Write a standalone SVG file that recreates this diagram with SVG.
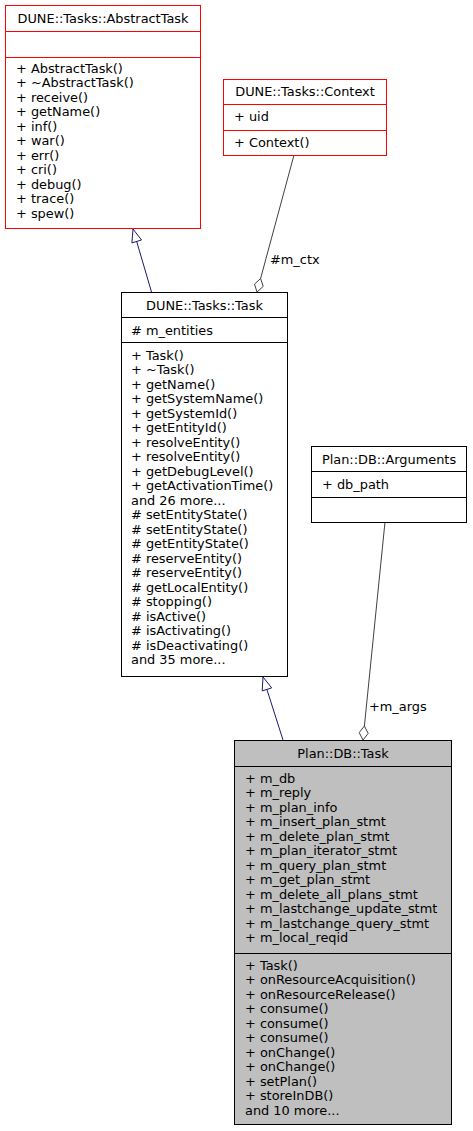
<svg xmlns="http://www.w3.org/2000/svg" width="473" height="1131" viewBox="0 0 473 1131">
<style>
text{font-family:"DejaVu Sans","Liberation Sans",sans-serif;font-size:12.9px;fill:#000}
.t{text-anchor:middle}
.box{fill:#fff;stroke:#000;stroke-width:1}
.red{fill:#fff;stroke:#ff0000;stroke-width:1}
.cur{fill:#bfbfbf;stroke:#000;stroke-width:1}
.ln{stroke:#000;stroke-width:1;fill:none}
.lnr{stroke:#ff0000;stroke-width:1;fill:none}
.inh{stroke:#191970;stroke-width:1;fill:none}
.inhh{stroke:#191970;stroke-width:1;fill:#fff}
.comp{stroke:#404040;stroke-width:1;fill:none}
.comph{stroke:#404040;stroke-width:1;fill:#fff}
</style>
<rect width="473" height="1131" fill="#fff"/>
<g id="connectors">
  <line class="inh" x1="151.5" y1="292" x2="136.7" y2="241.5"/>
  <polygon class="inhh" points="133,229 141.5,240 131.9,242.9"/>
  <line class="inh" x1="283" y1="740" x2="266.9" y2="689.4"/>
  <polygon class="inhh" points="263,677 271.7,687.9 262.2,690.9"/>
  <line class="comp" x1="294" y1="155" x2="260.6" y2="278.5"/>
  <polygon class="comph" points="257,292 263.2,286.4 260.6,278.5 254.5,284.1"/>
  <text x="270" y="263.5">#m_ctx</text>
  <line class="comp" x1="385" y1="522" x2="364.4" y2="726"/>
  <polygon class="comph" points="363,740 368.2,733.4 364.4,726 359.2,732.6"/>
  <text x="369" y="711">+m_args</text>
</g>
<g id="node-abstracttask">
  <rect class="red" x="5.5" y="5.5" width="195" height="223"/>
  <line class="lnr" x1="5.5" y1="31.5" x2="200.5" y2="31.5"/>
  <line class="lnr" x1="5.5" y1="57.5" x2="200.5" y2="57.5"/>
  <text class="t" x="103" y="22.6">DUNE::Tasks::AbstractTask</text>
  <text x="16" y="72.6">+ AbstractTask()</text>
  <text x="16" y="87.1">+ ~AbstractTask()</text>
  <text x="16" y="101.6">+ receive()</text>
  <text x="16" y="116.1">+ getName()</text>
  <text x="16" y="130.6">+ inf()</text>
  <text x="16" y="145.1">+ war()</text>
  <text x="16" y="159.6">+ err()</text>
  <text x="16" y="174.1">+ cri()</text>
  <text x="16" y="188.6">+ debug()</text>
  <text x="16" y="203.1">+ trace()</text>
  <text x="16" y="217.6">+ spew()</text>
</g>
<g id="node-context">
  <rect class="red" x="223.5" y="79.5" width="163" height="76"/>
  <line class="lnr" x1="223.5" y1="104.5" x2="386.5" y2="104.5"/>
  <line class="lnr" x1="223.5" y1="130.5" x2="386.5" y2="130.5"/>
  <text class="t" x="305" y="95.5">DUNE::Tasks::Context</text>
  <text x="234" y="121">+ uid</text>
  <text x="234" y="146.5">+ Context()</text>
</g>
<g id="node-task">
  <rect class="box" x="121.5" y="292.5" width="166" height="384"/>
  <line class="ln" x1="121.5" y1="317.5" x2="287.5" y2="317.5"/>
  <line class="ln" x1="121.5" y1="342.5" x2="287.5" y2="342.5"/>
  <text class="t" x="204.5" y="309.5">DUNE::Tasks::Task</text>
  <text x="131" y="334.5"># m_entities</text>
  <text x="131" y="359.5">+ Task()</text>
  <text x="131" y="374">+ ~Task()</text>
  <text x="131" y="388.5">+ getName()</text>
  <text x="131" y="403">+ getSystemName()</text>
  <text x="131" y="417.5">+ getSystemId()</text>
  <text x="131" y="432">+ getEntityId()</text>
  <text x="131" y="446.5">+ resolveEntity()</text>
  <text x="131" y="461">+ resolveEntity()</text>
  <text x="131" y="475.5">+ getDebugLevel()</text>
  <text x="131" y="490">+ getActivationTime()</text>
  <text x="131" y="504.5">and 26 more...</text>
  <text x="131" y="519"># setEntityState()</text>
  <text x="131" y="533.5"># setEntityState()</text>
  <text x="131" y="548"># getEntityState()</text>
  <text x="131" y="562.5"># reserveEntity()</text>
  <text x="131" y="577"># reserveEntity()</text>
  <text x="131" y="591.5"># getLocalEntity()</text>
  <text x="131" y="606"># stopping()</text>
  <text x="131" y="620.5"># isActive()</text>
  <text x="131" y="635"># isActivating()</text>
  <text x="131" y="649.5"># isDeactivating()</text>
  <text x="131" y="664">and 35 more...</text>
</g>
<g id="node-arguments">
  <rect class="box" x="311.5" y="446.5" width="155" height="76"/>
  <line class="ln" x1="311.5" y1="471.5" x2="466.5" y2="471.5"/>
  <line class="ln" x1="311.5" y1="497.5" x2="466.5" y2="497.5"/>
  <text class="t" x="389" y="463.5">Plan::DB::Arguments</text>
  <text x="322" y="489">+ db_path</text>
</g>
<g id="node-plandbtask">
  <rect class="cur" x="234.5" y="740.5" width="217" height="384"/>
  <line class="ln" x1="234.5" y1="766.5" x2="451.5" y2="766.5"/>
  <line class="ln" x1="234.5" y1="953.5" x2="451.5" y2="953.5"/>
  <text class="t" x="343" y="757.5">Plan::DB::Task</text>
  <text x="245" y="782.5">+ m_db</text>
  <text x="245" y="797">+ m_reply</text>
  <text x="245" y="811.5">+ m_plan_info</text>
  <text x="245" y="826">+ m_insert_plan_stmt</text>
  <text x="245" y="840.5">+ m_delete_plan_stmt</text>
  <text x="245" y="855">+ m_plan_iterator_stmt</text>
  <text x="245" y="869.5">+ m_query_plan_stmt</text>
  <text x="245" y="884">+ m_get_plan_stmt</text>
  <text x="245" y="898.5">+ m_delete_all_plans_stmt</text>
  <text x="245" y="913">+ m_lastchange_update_stmt</text>
  <text x="245" y="927.5">+ m_lastchange_query_stmt</text>
  <text x="245" y="942">+ m_local_reqid</text>
  <text x="245" y="969.5">+ Task()</text>
  <text x="245" y="984">+ onResourceAcquisition()</text>
  <text x="245" y="998.5">+ onResourceRelease()</text>
  <text x="245" y="1013">+ consume()</text>
  <text x="245" y="1027.5">+ consume()</text>
  <text x="245" y="1042">+ consume()</text>
  <text x="245" y="1056.5">+ onChange()</text>
  <text x="245" y="1071">+ onChange()</text>
  <text x="245" y="1085.5">+ setPlan()</text>
  <text x="245" y="1100">+ storeInDB()</text>
  <text x="245" y="1114.5">and 10 more...</text>
</g>
</svg>
